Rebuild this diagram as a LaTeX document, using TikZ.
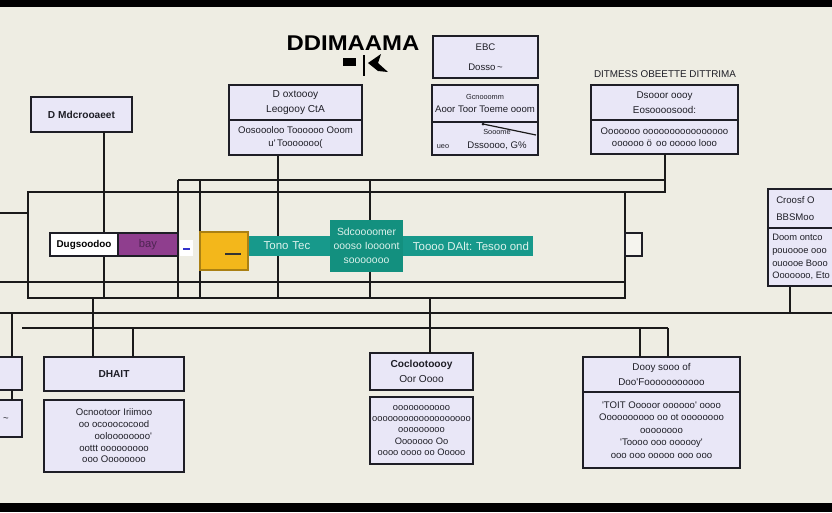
\documentclass[tikz,border=0pt]{standalone}
\usepackage{fontspec}
\setmainfont{Liberation Sans}
\definecolor{bgc}{HTML}{EEEDE3}
\definecolor{lavc}{HTML}{E9E7F7}
\definecolor{boxc}{HTML}{1E1E26}
\definecolor{linec}{HTML}{1A1A1A}
\definecolor{purc}{HTML}{8F3E8E}
\definecolor{purt}{HTML}{4E2452}
\definecolor{orac}{HTML}{F3B71B}
\definecolor{tealc}{HTML}{17998B}
\definecolor{tealb}{HTML}{13907F}
\definecolor{tealt}{HTML}{DDF2EC}
\newcommand\pbox[7]{%
  \pgfmathsetmacro\pcx{(#2+#4)/2}\pgfmathsetmacro\pcy{(#3+#5)/2}%
  \pgfmathsetmacro\pww{(#4-#2)*0.75}\pgfmathsetmacro\phh{(#5-#3)*0.75}%
  \node[#6, minimum width=\pww pt, minimum height=\phh pt] (#1) at (\pcx,\pcy) {#7};}
\begin{document}
\begin{tikzpicture}[x=0.75pt,y=-0.75pt,
  lav/.style={draw=boxc, fill=lavc, line width=1.1pt, inner sep=0pt, outer sep=0pt, align=center, text=boxc,
    font=\fontsize{7.2}{9.4}\selectfont},
  plain/.style={draw=boxc, fill=white, line width=1pt, inner sep=0pt, outer sep=0pt, align=center,
    font=\fontsize{7.2}{8}\selectfont},
  conn/.style={line width=0.9pt, draw=linec},
  tl/.style={inner sep=0pt, font=\fontsize{7.2}{8}\selectfont, text=boxc}]
\clip (0,0) rectangle (832,512);
\fill[bgc] (0,0) rectangle (832,512);
\fill[black] (0,0) rectangle (832,7);
\fill[black] (0,503) rectangle (832,512);

% ---------- connectors (behind boxes) ----------
\coordinate (fTL) at (28,192); \coordinate (fBR) at (625,298);
\draw[conn] (fTL) rectangle (fBR);
\coordinate (s282l) at (0,282); \coordinate (s282r) at (625,282);
\draw[conn] (s282l) -- (s282r);
\coordinate (s213l) at (0,213); \coordinate (s213r) at (28,213);
\draw[conn] (s213l) -- (s213r);
\coordinate (t180l) at (178,180); \coordinate (t180r) at (665,180);
\draw[conn] (t180l) -- (t180r);
\coordinate (v178b) at (178,298); \draw[conn] (t180l) -- (v178b);
\coordinate (v200t) at (200,180); \coordinate (v200b) at (200,298); \draw[conn] (v200t) -- (v200b);
\coordinate (v278t) at (278,155); \coordinate (v278b) at (278,298); \draw[conn] (v278t) -- (v278b);
\coordinate (v104b) at (104,298);
\coordinate (v370t) at (370,180); \coordinate (v370b) at (370,298);
\coordinate (d192) at (665,192); \coordinate (f192) at (625,192);
% bottom rails
\coordinate (h313l) at (0,313); \coordinate (h313r) at (832,313);
\draw[conn] (h313l) -- (h313r);
\coordinate (h328l) at (22,328); \coordinate (h328r) at (668,328);
\draw[conn] (h328l) -- (h328r);
\coordinate (v93t) at (93,298); \coordinate (v133t) at (133,328);
\coordinate (v430t) at (430,298);
\coordinate (v640t) at (640,328); \coordinate (v668t) at (668,328);
\coordinate (v12t) at (12,313);
\coordinate (v790t) at (790,286); \coordinate (v790b) at (790,313);
\draw[conn] (v790t) -- (v790b);

% ---------- title ----------
\node[font=\bfseries\fontsize{16}{16}\selectfont, xscale=1.12, inner sep=0pt] (title) at (353,43) {DDIMAAMA};
\fill[black] (343,58) rectangle (356,66);
\draw[line width=1.4pt] (364,55) -- (364,76);
\fill[black] (368,63) -- (381,54) -- (378,63) -- (388,72) -- (378,71) -- cycle;

% ---------- top boxes ----------
\pbox{A}{433}{36}{538}{78}{lav}{EBC\\[6pt]Dosso\,\textasciitilde}
\pbox{Bu}{432}{85}{538}{122}{lav}{{\fontsize{5.5}{6}\selectfont Gcnooomm}\\[1pt]Aoor Toor Toeme ooom}
\pbox{Bl}{432}{122}{538}{155}{lav}{\\[-4pt]\hspace*{18pt}{\fontsize{5.5}{6}\selectfont Sooome}\\[1pt]\hspace*{18pt}Dssoooo, G\%}
\node[tl, font=\fontsize{5.5}{6}\selectfont] (ueo) at (443,147) {ueo};
\coordinate (bl1) at (483,124); \coordinate (bl2) at (536,135);
\fill[boxc] (bl1) circle (1.5);
\draw[conn] (bl1) -- (bl2);

\pbox{Cu}{229}{85}{362}{120}{lav, font=\fontsize{7.6}{10}\selectfont}{D oxtoooy\\[1pt]Leogooy CtA}
\pbox{Cl}{229}{120}{362}{155}{lav}{Oosoooloo Toooooo Ooom\\u\textquotesingle\,Tooooooo(}

\node[tl, font=\fontsize{7.4}{8}\selectfont] (dhead) at (665,74) {DITMESS OBEETTE DITTRIMA};
\pbox{Du}{591}{85}{738}{120}{lav, font=\fontsize{7.4}{10}\selectfont}{Dsooor oooy\\[1pt]Eosoooosood:}
\pbox{Dl}{591}{120}{738}{154}{lav}{Ooooooo oooooooooooooooo\\oooooo \"o\, oo ooooo looo}

\pbox{E}{31}{97}{132}{132}{lav, font=\bfseries\fontsize{7.6}{9}\selectfont}{D Mdcrooaeet}

\pbox{Fu}{768}{189}{850}{228}{lav}{}
\pbox{Fl}{768}{228}{850}{286}{lav}{}
\node[tl, anchor=west] (f1) at (776,200) {Croosf O};
\node[tl, anchor=west] (f2) at (776,217) {BBSMoo};
\node[tl, anchor=west, align=left, font=\fontsize{7}{9.6}\selectfont] (f3) at (772,257) {Doom ontco\\pouoooe ooo\\ouoooe Booo\\Ooooooo, Eto};

% connectors to top boxes
\draw[conn] (E.south -| v104b) -- (v104b);
\draw[conn] (Dl.south -| d192) -- (d192) -- (f192);

% ---------- middle row ----------
\pbox{tealbar}{248}{236}{533}{256}{fill=tealc, inner sep=0pt, outer sep=0pt}{}
\node[tl, text=tealt, font=\fontsize{8.6}{9}\selectfont] (tt1) at (287,246) {Tono\,\,Tec};
\node[tl, text=tealt, font=\fontsize{8.6}{9}\selectfont] (tt2) at (471,246) {Toooo DAlt:\,\,Tesoo ond};
\pbox{TB}{330}{220}{403}{272}{fill=tealb, inner sep=0pt, outer sep=0pt, align=center, text=tealt, font=\fontsize{7.8}{10.5}\selectfont}{Sdcoooomer\\oooso Ioooont\\sooooooo}
\draw[conn] (v370t) -- (v370t |- TB.north);
\draw[conn] (v370b |- TB.south) -- (v370b);

\pbox{W1}{50}{233}{118}{256}{plain, font=\bfseries\fontsize{7.4}{8}\selectfont}{Dugsoodoo}
\pbox{P1}{118}{233}{178}{256}{fill=purc, draw=boxc, line width=1pt, inner sep=0pt, outer sep=0pt, text=purt, font=\fontsize{8.4}{9}\selectfont}{bay}
\pbox{W2}{180}{240}{193}{256}{fill=white, inner sep=0pt, outer sep=0pt}{}
\node[inner sep=0pt] (w2t) at (186.5,249) {\textcolor{blue!60!gray}{\rule{5pt}{1.2pt}}};
\pbox{O1}{200}{232}{248}{270}{fill=orac, draw=orac!70!black, line width=0.8pt, inner sep=0pt, outer sep=0pt}{}
\coordinate (o1a) at (225,254); \coordinate (o1b) at (241,254);
\draw[line width=1pt, draw=black!80] (o1a) -- (o1b);
\pbox{R1}{625}{233}{642}{256}{plain, fill=bgc!60!white}{}

% ---------- bottom boxes ----------
\pbox{L1}{-10}{357}{22}{390}{lav}{}
\pbox{L2}{-10}{400}{22}{437}{lav}{}
\node[tl] (l2t) at (6,420) {\textasciitilde};
\draw[conn] (v12t) -- (v12t |- L1.north);
\draw[conn] (v12t |- L1.south) -- (v12t |- L2.north);

\pbox{G1}{44}{357}{184}{391}{lav, font=\bfseries\fontsize{7.6}{9}\selectfont}{DHAIT}
\pbox{G2}{44}{400}{184}{472}{lav, font=\fontsize{7.2}{8.8}\selectfont}{Ocnootoor Iriimoo\\oo ocooococood\\\hspace*{14pt}ooloooooooo\textquotesingle\\oottt ooooooooo\\ooo Oooooooo}
\draw[conn] (v93t) -- (v93t |- G1.north);
\draw[conn] (v133t) -- (v133t |- G1.north);

\pbox{H1}{370}{353}{473}{390}{lav, font=\fontsize{7.6}{10}\selectfont}{\bfseries Coclootoooy\\[1pt]Oor Oooo}
\pbox{H2}{370}{397}{473}{464}{lav, font=\fontsize{7}{8.3}\selectfont}{ooooooooooo\\ooooooooooooooooooo\\ooooooooo\\Ooooooo Oo\\oooo oooo oo Ooooo}
\draw[conn] (v430t) -- (v430t |- H1.north);

\pbox{Iu}{583}{357}{740}{392}{lav, font=\fontsize{7.4}{10}\selectfont}{Dooy sooo of\\[1pt]Doo\textquotesingle Fooooooooooo}
\pbox{Il}{583}{392}{740}{468}{lav, font=\fontsize{7.2}{9.4}\selectfont}{\textquotesingle TOIT Ooooor oooooo\textquotesingle{} oooo\\Oooooooooo oo ot oooooooo\\oooooooo\\\textquotesingle Toooo ooo oooooy\textquotesingle\\ooo ooo ooooo ooo ooo}
\draw[conn] (v640t) -- (v640t |- Iu.north);
\draw[conn] (v668t) -- (v668t |- Iu.north);
\end{tikzpicture}
\end{document}
